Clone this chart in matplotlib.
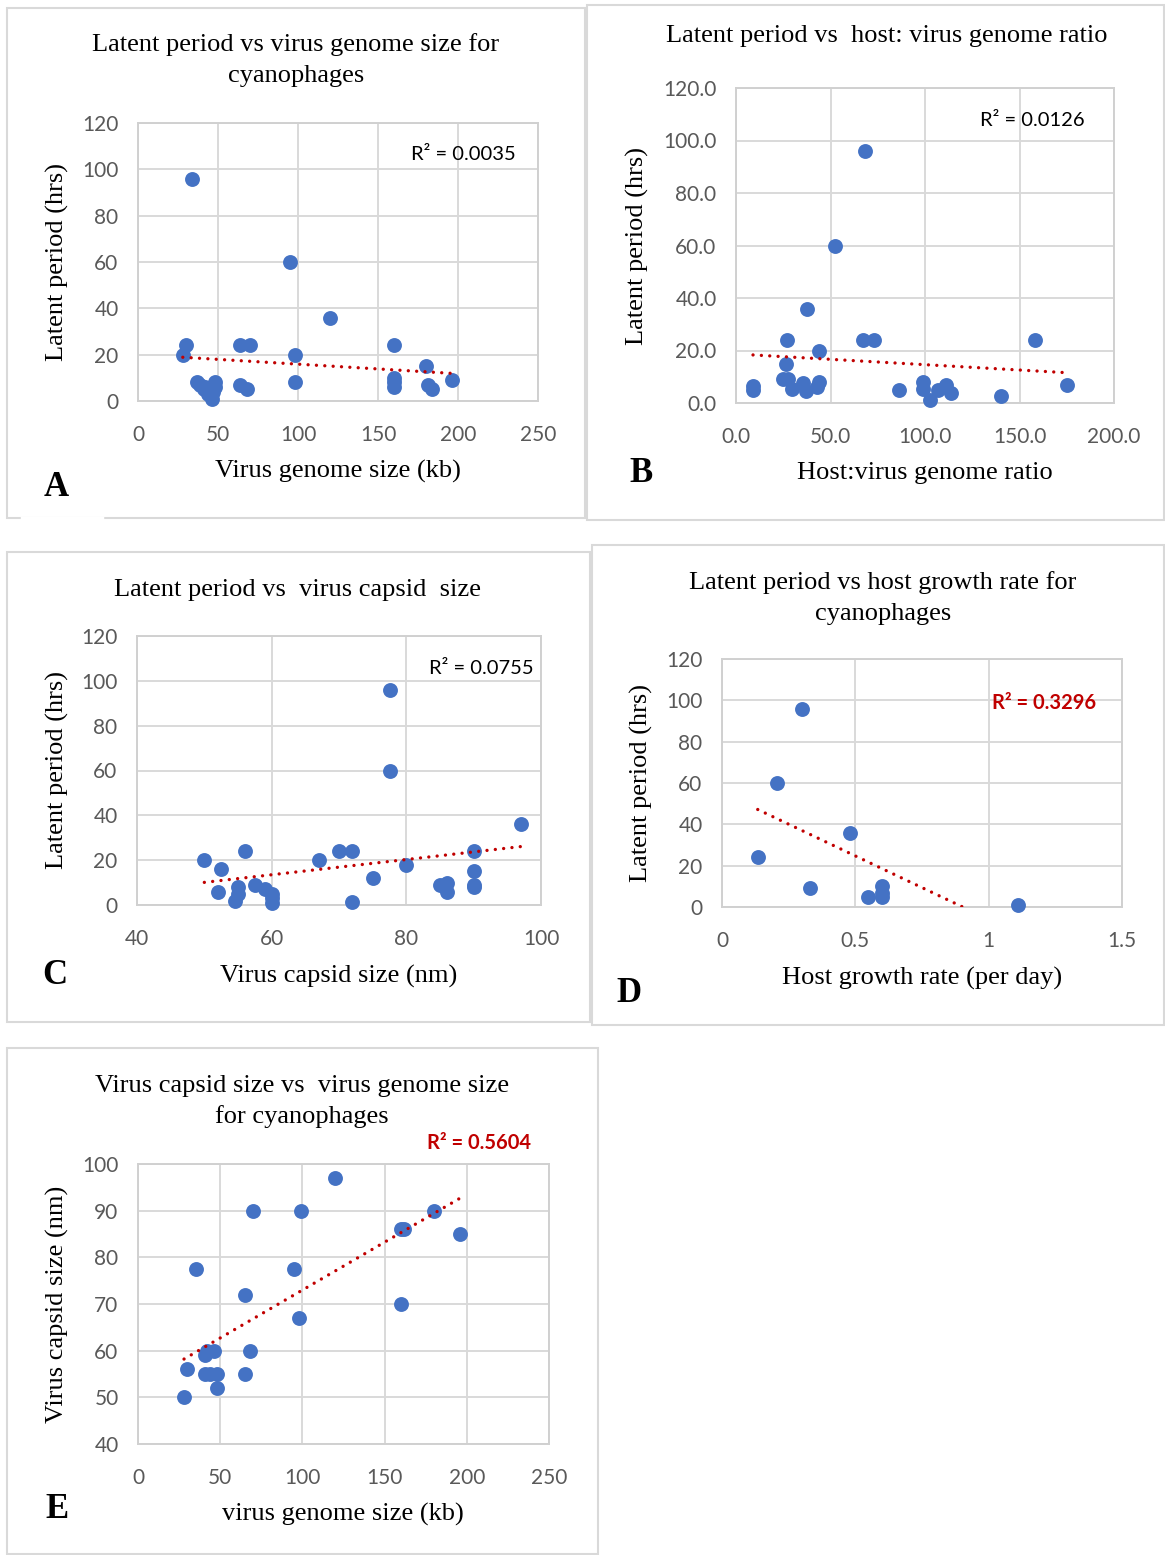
import matplotlib.pyplot as plt
import numpy as np
from matplotlib.patches import Rectangle

W, H = 1165, 1555

# A: virus genome size (kb) vs latent period (hrs)
genome_a = [34, 95, 120, 30, 28, 64, 70, 98, 98, 160, 180, 160, 160, 160, 181, 184, 196, 64, 68,
            37, 39, 41, 42, 44, 46, 47, 48, 48]
latent_a = [96, 60, 36, 24, 20, 24, 24, 20, 8, 24, 15, 10, 8, 6, 7, 5, 9, 7, 5,
            8, 7, 5, 6, 3, 1, 4, 8, 6]

# B: host:virus genome ratio vs latent period
ratio_b = [68.5, 52.5, 37.5, 27, 67, 73, 158, 44, 26.5, 25, 27.5, 9, 9, 29.5, 35.5, 37, 44, 43,
           86, 99, 99, 102.5, 107, 111, 114, 140, 175]
latent_b = [96, 60, 36, 24, 24, 24, 24, 20, 15, 9, 9, 6.5, 5, 5.5, 7.5, 4.5, 8, 6,
            5, 8, 5.5, 1, 5, 7, 4, 2.5, 7]

# C: virus capsid size (nm) vs latent period
capsid_c = [77.5, 77.5, 97, 50, 52.5, 56, 52, 55, 55, 54.5, 57.5, 59, 60, 60, 60, 67, 70, 72, 72,
            75, 80, 85, 86, 86, 90, 90, 90, 90]
latent_c = [96, 60, 36, 20, 16, 24, 6, 8, 5, 2, 9, 7, 5, 3, 1, 20, 24, 24, 1.5,
            12, 18, 9, 10, 6, 24, 15, 8, 9]

# D: host growth rate (per day) vs latent period
growth_d = [0.30, 0.206, 0.479, 0.134, 0.329, 0.549, 0.6, 0.6, 0.6, 1.109]
latent_d = [96, 60, 36, 24, 9, 5, 10, 7, 5, 1]

# E: virus genome size (kb) vs virus capsid size (nm)
genome_e = [120, 70, 99, 180, 160, 162, 196, 35, 95, 65, 160, 98, 42, 46, 41, 68, 30, 41, 44, 48,
            65, 48, 28]
capsid_e = [97, 90, 90, 90, 86, 86, 85, 77.5, 77.5, 72, 70, 67, 60, 60, 59, 60, 56, 55, 55, 55,
            55, 52, 50]

SERIF = 'Liberation Serif'
SANS = 'Lato'
GRID = '#d9d9d9'
BLUE = '#4472C4'
RED = '#C00000'

fig = plt.figure(figsize=(W / 100, H / 100), dpi=100)


def box(l, t, r, b):
    fig.add_artist(Rectangle((l / W, 1 - b / H), (r - l) / W, (b - t) / H,
                             transform=fig.transFigure, fill=False, ec=GRID, lw=1.5))


def txt(x, y, s, **kw):
    kw.setdefault('family', SERIF)
    kw.setdefault('fontsize', 19)
    fig.text(x / W, 1 - y / H, s, ha='center', va='center', **kw)


def panel(l, t, r, b, x, y, xlim, ylim, xticks, yticks, xfmt, yfmt):
    ax = fig.add_axes([l / W, 1 - b / H, (r - l) / W, (b - t) / H])
    ax.set_xlim(xlim)
    ax.set_ylim(ylim)
    ax.set_xticks(xticks)
    ax.set_yticks(yticks)
    ax.set_xticklabels([xfmt(v) for v in xticks])
    ax.set_yticklabels([yfmt(v) for v in yticks])
    ax.grid(color=GRID, lw=1.4)
    ax.set_axisbelow(True)
    for s in ax.spines.values():
        s.set_color('#d0d0d0')
        s.set_linewidth(1.4)
    ax.tick_params(length=0, labelsize=15, labelcolor='#595959')
    ax.tick_params(axis='x', pad=17)
    ax.tick_params(axis='y', pad=14)
    for lab in ax.get_xticklabels() + ax.get_yticklabels():
        lab.set_family(SANS)
    ax.scatter(x, y, s=115, color=BLUE, zorder=3, clip_on=False, linewidths=0)
    k, c = np.polyfit(x, y, 1)
    xs = np.array([min(x), max(x)])
    ax.plot(xs, k * xs + c, color=RED, lw=2.4, ls=(0, (0.01, 2.5)),
            dash_capstyle='round', zorder=4)
    return ax


num = lambda v: f'{v:g}'
one = lambda v: f'{v:.1f}'

# panel frames
box(7, 8, 585, 518)
box(587, 5, 1164, 520)
box(7, 552, 590, 1022)
box(592, 545, 1164, 1025)
box(7, 1048, 598, 1554)
# gap in frame A under the letter
fig.add_artist(plt.Line2D([22 / W, 102 / W], [1 - 518 / H] * 2, color='white', lw=2.5))

# A
panel(138, 123, 538, 401, genome_a, latent_a, (0, 250), (0, 120),
      range(0, 251, 50), range(0, 121, 20), num, num)
txt(296, 45, 'Latent period vs virus genome size for')
txt(296, 76, 'cyanophages')
txt(338, 471, 'Virus genome size (kb)')
txt(57, 262, 'Latent period (hrs)', rotation=90)
txt(463, 155, 'R² = 0.0035', family=SANS, fontsize=14.5)
txt(56, 488, 'A', fontsize=25, weight='bold')

# B
panel(736, 88, 1114, 403, ratio_b, latent_b, (0, 200), (0, 120),
      range(0, 201, 50), range(0, 121, 20), one, one)
txt(887, 36, 'Latent period vs  host: virus genome ratio')
txt(925, 473, 'Host:virus genome ratio')
txt(637, 246, 'Latent period (hrs)', rotation=90)
txt(1032, 120, 'R² = 0.0126', family=SANS, fontsize=14.5)
txt(641, 473, 'B', fontsize=25, weight='bold')

# C
panel(137, 636, 541, 905, capsid_c, latent_c, (40, 100), (0, 120),
      range(40, 101, 20), range(0, 121, 20), num, num)
txt(297, 590, 'Latent period vs  virus capsid  size')
txt(339, 976, 'Virus capsid size (nm)')
txt(57, 770, 'Latent period (hrs)', rotation=90)
txt(481, 668, 'R² = 0.0755', family=SANS, fontsize=14.5)
txt(55, 976, 'C', fontsize=25, weight='bold')

# D
panel(722, 659, 1122, 907, growth_d, latent_d, (0, 1.5), (0, 120),
      [0, 0.5, 1, 1.5], range(0, 121, 20), num, num)
txt(883, 583, 'Latent period vs host growth rate for')
txt(883, 614, 'cyanophages')
txt(922, 978, 'Host growth rate (per day)')
txt(641, 783, 'Latent period (hrs)', rotation=90)
txt(1044, 703, 'R² = 0.3296', family=SANS, fontsize=14.5, weight='bold', color=RED)
txt(629, 993, 'D', fontsize=25, weight='bold')

# E
panel(138, 1164, 549, 1444, genome_e, capsid_e, (0, 250), (40, 100),
      range(0, 251, 50), range(40, 101, 10), num, num)
txt(302, 1086, 'Virus capsid size vs  virus genome size')
txt(302, 1117, 'for cyanophages')
txt(343, 1514, 'virus genome size (kb)')
txt(57, 1304, 'Virus capsid size (nm)', rotation=90)
txt(479, 1143, 'R² = 0.5604', family=SANS, fontsize=14.5, weight='bold', color=RED)
txt(57, 1509, 'E', fontsize=25, weight='bold')

fig.savefig('out.png', dpi=100)
